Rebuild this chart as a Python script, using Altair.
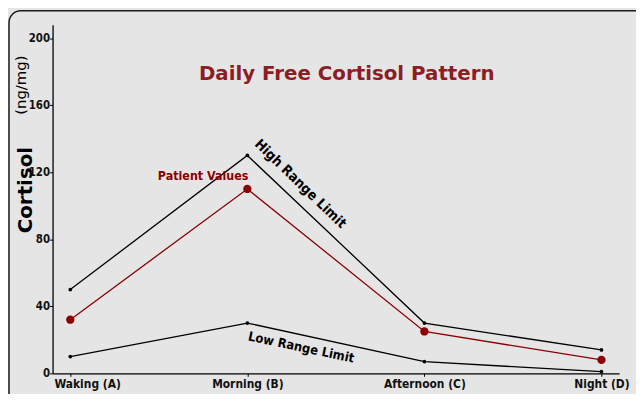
import altair as alt
import pandas as pd

times = ["Waking (A)", "Morning (B)", "Afternoon (C)", "Night (D)"]
high_limit = [50, 130, 30, 14]
patient_values = [32, 110, 25, 8]
low_limit = [10, 30, 7, 1]
y_ticks = [0, 40, 80, 120, 160, 200]

series_names = ["High Range Limit", "Patient Values", "Low Range Limit"]
series_colors = ["#000000", "#8B0000", "#000000"]

rows = []
for name, vals in zip(series_names, [high_limit, patient_values, low_limit]):
    for t, v in zip(times, vals):
        rows.append({"time": t, "value": v, "series": name})
df = pd.DataFrame(rows)

COND = "DejaVu Sans Condensed, Liberation Sans Narrow, DejaVu Sans"
SANS = "DejaVu Sans"

x_enc = alt.X(
    "time:N", sort=times, title=None,
    scale=alt.Scale(type="point", padding=0.1),
    axis=alt.Axis(
        labelAngle=0, labelFont=COND, labelFontWeight="bold", labelFontSize=12,
        labelColor="#111", tickSize=3, labelPadding=2, domainWidth=1.3,
        domainColor="#000", tickColor="#000", zindex=1,
        labelOffset={"condition": {"test": "datum.index == 0", "value": 17}, "value": 0},
    ),
)
y_enc = alt.Y(
    "value:Q", title=None,
    scale=alt.Scale(domain=[0, 208], nice=False),
    axis=alt.Axis(
        values=y_ticks, grid=False, labelFont=COND, labelFontWeight="bold",
        labelFontSize=11.5, labelColor="#111", tickSize=3, labelPadding=0,
        domainWidth=1.3, domainColor="#000", tickColor="#000", zindex=1,
    ),
)
color_enc = alt.Color("series:N", scale=alt.Scale(domain=series_names, range=series_colors), legend=None)

base = alt.Chart(df)
lines = base.mark_line(strokeWidth=1.3).encode(x=x_enc, y=y_enc, color=color_enc, detail="series:N")
black_pts = base.transform_filter("datum.series != 'Patient Values'").mark_point(
    filled=True, size=14, opacity=1, color="#000").encode(x=x_enc, y=y_enc)
red_pts = base.transform_filter("datum.series == 'Patient Values'").mark_point(
    filled=True, size=70, opacity=1, color="#8B0000").encode(x=x_enc, y=y_enc)

one = pd.DataFrame({"k": [0]})
ann = alt.Chart(one)

border = ann.mark_rect(fill="transparent", stroke="#1a1a1a", strokeWidth=1.5, cornerRadius=12).encode(
    x=alt.value(-44), y=alt.value(-14), x2=alt.value(700), y2=alt.value(500))

title = ann.mark_text(text="Daily Free Cortisol Pattern", font=SANS, fontWeight="bold",
                      fontSize=20, color="#8E1C24", align="center", baseline="middle").encode(
    x=alt.value(297), y=alt.value(50))
ytitle = ann.mark_text(text="Cortisol", font=SANS, fontWeight="bold", fontSize=20,
                       color="#000", angle=270, align="center", baseline="middle").encode(
    x=alt.value(-27), y=alt.value(167))
yunit = ann.mark_text(text="(ng/mg)", font=SANS, fontSize=15, color="#000", angle=270,
                      align="center", baseline="middle").encode(
    x=alt.value(-32), y=alt.value(61))
pat_lbl = ann.mark_text(text="Patient Values", font=COND, fontWeight="bold", fontSize=12.5,
                        color="#8B0000", align="center", baseline="middle").encode(
    x=alt.value(152), y=alt.value(153))
high_lbl = ann.mark_text(text="High Range Limit", font=COND, fontWeight="bold", fontSize=14,
                         color="#000", angle=44, align="center", baseline="middle").encode(
    x=alt.value(250), y=alt.value(161))
low_lbl = ann.mark_text(text="Low Range Limit", font=COND, fontWeight="bold", fontSize=13,
                        color="#000", angle=12, align="center", baseline="middle").encode(
    x=alt.value(251), y=alt.value(326))

chart = alt.layer(
    border, lines, black_pts, red_pts, title, ytitle, yunit, pat_lbl, high_lbl, low_lbl
).properties(
    width=572, height=352,
    autosize=alt.AutoSizeParams(type="none"),
    padding={"left": 45, "top": 15, "right": 17, "bottom": 19},
    background="#e5e5e5",
).configure_view(stroke=None)

chart.save("out.html", embed_options={"renderer": "svg", "actions": False})
